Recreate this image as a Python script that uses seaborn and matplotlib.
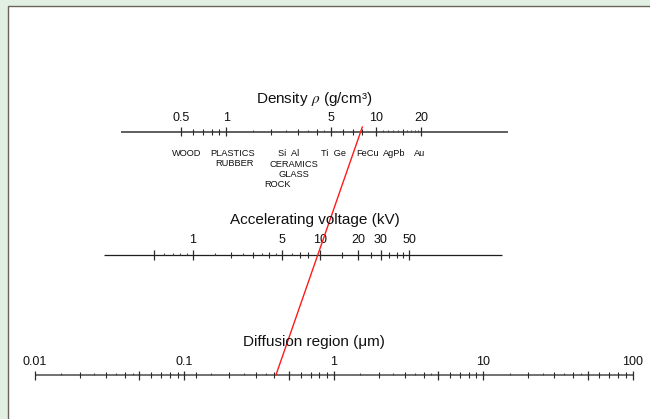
import numpy as np
import matplotlib
matplotlib.use("Agg")
import matplotlib.pyplot as plt
import seaborn as sns
from matplotlib.patches import Rectangle

# ---------------- data ----------------
density_labels = [0.5, 1, 5, 10, 20]
density_minor = [0.6, 0.7, 0.8, 0.9, 2, 3, 4, 6, 7, 8, 15]
density_dots = [1.5, 2.5, 3.5, 4.5, 11, 12, 13, 14, 16, 17, 18, 19]
density_range = [0.2, 75]

material_names = ["WOOD", "PLASTICS", "RUBBER", "Si  Al", "CERAMICS", "GLASS",
                  "ROCK", "Ti  Ge", "FeCu", "AgPb", "Au"]
material_density = [0.54, 1.10, 1.13, 2.59, 2.82, 2.82, 2.21, 5.18, 8.8, 13.1, 19.4]
material_row = [0, 0, 1, 0, 1.16, 2.16, 3.16, 0, 0, 0, 0]

voltage_labels = [1, 5, 10, 20, 30, 50]
voltage_major_unlabelled = [0.5]
voltage_minor = [2, 3, 4, 7, 8, 15, 25, 35, 40, 45]
voltage_dots = [0.6, 0.7, 0.8, 0.9, 1.5, 2.5, 3.5, 4.5, 6]
voltage_range = [0.2, 270]

diff_labels = [0.01, 0.1, 1, 10, 100]
diff_label_text = ["0.01", "0.1", "1", "10", "100"]
diff_medium = [0.05, 0.5, 5, 50]
diff_minor = [0.02, 0.03, 0.04, 0.06, 0.07, 0.08, 0.09,
              0.12, 0.2, 0.3, 0.4, 0.6, 0.7, 0.8, 0.9,
              2, 3, 4, 6, 7, 8, 9,
              20, 30, 40, 60, 70, 80, 90]
diff_dots = [0.015, 0.025, 0.035, 0.045, 0.15, 0.25, 0.35,
             1.5, 2.5, 3.5, 4.5, 15, 25, 35, 45]
diff_range = [0.01, 100]

# example line: density of Fe and resulting diffusion region
example_density = 7.87
example_region = 0.41

# ---------------- style ----------------
sns.set_theme(style="white")
plt.rcParams["font.family"] = ["Liberation Sans", "DejaVu Sans"]
plt.rcParams["mathtext.fontset"] = "stix"

W, H = 650, 419
fig = plt.figure(figsize=(W / 100, H / 100), dpi=100)
fig.patch.set_facecolor("#e2f0e4")
fig.add_artist(Rectangle((7.5 / W, -0.1), 1.2, (H - 6.5) / H + 0.1,
                         transform=fig.transFigure, facecolor="white",
                         edgecolor="#6a6357", lw=1.0, zorder=0))

TXT = "#111111"
TK = "#2a2a2a"


def make_scale(ref_val, ref_px, decade_px, line_px, vrange, color, lw):
    x0 = ref_px + decade_px * np.log10(vrange[0] / ref_val)
    x1 = ref_px + decade_px * np.log10(vrange[1] / ref_val)
    ax = fig.add_axes([x0 / W, (H - line_px - 10) / H, (x1 - x0) / W, 20 / H])
    ax.set_xscale("log")
    ax.set_xlim(vrange)
    ax.set_ylim(-10, 10)
    ax.axis("off")
    ax.patch.set_alpha(0)
    ax.hlines(0, vrange[0], vrange[1], color=color, lw=lw, clip_on=False)
    return ax


# Density scale
axd = make_scale(1, 226.3, 150, 131.7, density_range, "#5f5f5f", 1.4)
axd.vlines(density_labels, -4.5, 4.5, color=TK, lw=0.9, clip_on=False)
axd.vlines(density_minor, -3, 3, color=TK, lw=0.8, clip_on=False)
axd.vlines(density_dots, 0, 2, color="#444444", lw=0.8, clip_on=False)
for v in density_labels:
    axd.text(v, 11, f"{v:g}", ha="center", va="baseline", fontsize=9, color=TXT)
row_y = -24
for name, v, r in zip(material_names, material_density, material_row):
    axd.text(v, row_y - 10 * r, name, ha="center", va="baseline",
             fontsize=6.7, color=TXT)

# Voltage scale
axv = make_scale(1, 192.7, 127.3, 255, voltage_range, "#1e1e1e", 0.9)
axv.vlines(voltage_labels + voltage_major_unlabelled, -4.5, 4.5, color=TK,
           lw=0.9, clip_on=False)
axv.vlines(voltage_minor, -3, 3, color=TK, lw=0.8, clip_on=False)
axv.vlines(voltage_dots, 0, 2, color="#444444", lw=0.8, clip_on=False)
for v in voltage_labels:
    axv.text(v, 11.7, f"{v:g}", ha="center", va="baseline", fontsize=9, color=TXT)

# Diffusion region scale
axr = make_scale(0.01, 35, 149.4, 375, diff_range, "#4a4a4a", 1.1)
axr.vlines(diff_labels, -4.5, 4.5, color=TK, lw=0.9, clip_on=False)
axr.vlines(diff_medium, -4.5, 4.5, color=TK, lw=0.9, clip_on=False)
axr.vlines(diff_minor, -3, 3, color=TK, lw=0.8, clip_on=False)
axr.vlines(diff_dots, 0, 2, color="#444444", lw=0.8, clip_on=False)
for v, t in zip(diff_labels, diff_label_text):
    axr.text(v, 10, t, ha="center", va="baseline", fontsize=9, color=TXT)

# Titles
fig.text(314 / W, 1 - 102.7 / H, "Density $\\rho$ (g/cm³)", ha="center",
         va="baseline", fontsize=11, color=TXT)
fig.text(315 / W, 1 - 224.3 / H, "Accelerating voltage (kV)", ha="center",
         va="baseline", fontsize=11, color=TXT)
fig.text(314 / W, 1 - 345.7 / H, "Diffusion region (μm)", ha="center",
         va="baseline", fontsize=11, color=TXT)

# Example connecting line
inv = fig.transFigure.inverted()
p_top = inv.transform(axd.transData.transform((example_density, 0)))
p_bot = inv.transform(axr.transData.transform((example_region, 0)))
d = p_top - p_bot
p_top2 = p_top + d * 0.02
over = fig.add_axes([0, 0, 1, 1])
over.set_xlim(0, 1)
over.set_ylim(0, 1)
over.axis("off")
over.patch.set_alpha(0)
sns.lineplot(x=[p_bot[0], p_top2[0]], y=[p_bot[1], p_top2[1]], ax=over,
             color="#ff1a1a", lw=1.0, sort=False)

fig.savefig("out.png", dpi=100, facecolor=fig.get_facecolor())
